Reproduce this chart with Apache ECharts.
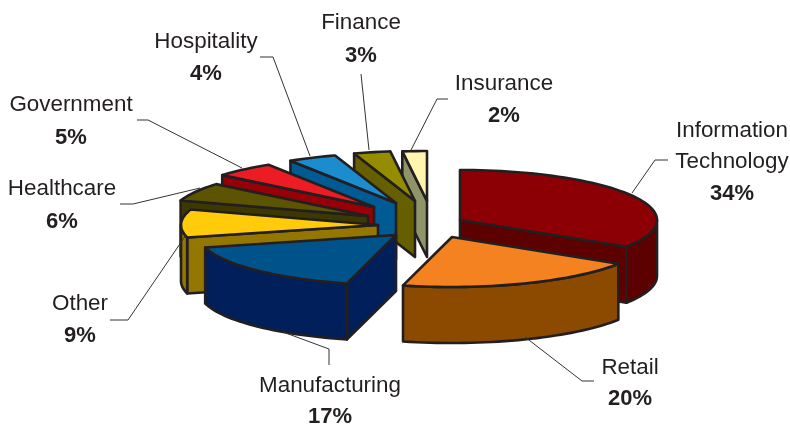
<!DOCTYPE html>
<html>
<head>
<meta charset="utf-8">
<style>
  html, body { margin: 0; padding: 0; background: #fff; }
  #chart { width: 790px; height: 426px; }
</style>
<script src="https://cdn.jsdelivr.net/npm/echarts@6/dist/echarts.min.js"></script>
</head>
<body>
<div id="chart"></div>
<script>
// clockwise from 12 o'clock
const categories = ["Information\nTechnology", "Retail", "Manufacturing", "Other", "Healthcare", "Government", "Hospitality", "Finance", "Insurance"];
const shares = [34, 20, 17, 9, 6, 5, 4, 3, 2];

const topColors = ["#8c0005", "#f58220", "#00528a", "#ffcb0a", "#5c5400", "#ed1c24", "#1b8dcf", "#968c00", "#fff5ad"];
const sideColors = ["#5c0000", "#8c4a00", "#001f5b", "#937700", "#3c3800", "#970007", "#005a94", "#665f00", "#8f9569"];

// pie shape
const RX = 197;
const RY = 50;
const DEPTH = 56;
const CX = 430;
const CY = 219;
const INK = "#231f20";

// how far each slice is pulled out of the pie, px
const explode = [[30, 1], [22, 18], [-34, 16], [-52, 6], [-62, -3], [-56, -12], [-34, -16], [-15, -18], [-3, -18]];
// painter's order, back to front
const drawOrder = [8, 7, 6, 5, 4, 3, 2, 0, 1];

// label layout: [x, name y, percent y]
const labelPos = [[732, 131, 194], [630, 368, 399], [330, 386, 417], [80, 304, 336], [62, 189, 222], [71, 105, 138], [206, 42, 74], [361, 23, 56], [504, 84, 116]];
const leaders = [
  [[668, 160], [655, 160], [632, 193]],
  [[594, 381], [582, 381], [525, 337]],
  [[329, 365], [329, 349], [283, 332]],
  [[110, 320], [128, 320], [186, 235]],
  [[120, 204], [133, 204], [200, 188]],
  [[137, 120], [148, 120], [242, 168]],
  [[260, 57], [273, 57], [310, 156]],
  [[361, 74], [369, 150]],
  [[448, 99], [437, 99], [411, 150]]
];

const total = shares.reduce((a, b) => a + b, 0);
const startDeg = [];
shares.reduce((acc, v, i) => {
  startDeg[i] = acc;
  return acc + (v / total) * 360;
}, 0);

function rimPoint(ax, ay, deg, drop) {
  const r = (deg * Math.PI) / 180;
  return [ax + RX * Math.sin(r), ay - RY * Math.cos(r) + (drop || 0)];
}

function poly(points, fill, z2) {
  return {
    type: "polygon",
    z2: z2,
    shape: { points: points },
    style: { fill: fill, stroke: INK, lineWidth: 2.6, lineJoin: "round" }
  };
}

function renderSlice(params, api) {
  const i = api.value(0);
  const rank = params.dataIndex * 10;
  const a0 = startDeg[i];
  const a1 = a0 + (shares[i] / total) * 360;
  const ax = CX + explode[i][0];
  const ay = CY + explode[i][1];
  const children = [];

  // cut faces, only the ones turned to the viewer
  [a0, a1].forEach((deg, k) => {
    const s = Math.sin((deg * Math.PI) / 180);
    if ((k === 0 && s < -1e-6) || (k === 1 && s > 1e-6)) {
      const p = rimPoint(ax, ay, deg);
      children.push(poly([[ax, ay], p, [p[0], p[1] + DEPTH], [ax, ay + DEPTH]], sideColors[i], rank));
    }
  });

  // outer wall, front half of the rim
  const w0 = Math.max(a0, 90);
  const w1 = Math.min(a1, 270);
  if (w1 > w0) {
    const upper = [];
    const lower = [];
    for (let d = w0; d < w1; d += 2) {
      upper.push(rimPoint(ax, ay, d));
      lower.unshift(rimPoint(ax, ay, d, DEPTH));
    }
    upper.push(rimPoint(ax, ay, w1));
    lower.unshift(rimPoint(ax, ay, w1, DEPTH));
    children.push(poly(upper.concat(lower), sideColors[i], rank + 1));
  }

  // top surface
  const top = [[ax, ay]];
  for (let d = a0; d < a1; d += 2) {
    top.push(rimPoint(ax, ay, d));
  }
  top.push(rimPoint(ax, ay, a1));
  children.push(poly(top, topColors[i], rank + 2));

  return { type: "group", children: children };
}

function renderLabel(params, api) {
  const i = api.value(0);
  const pos = labelPos[i];
  const children = [{
    type: "polyline",
    shape: { points: leaders[i] },
    style: { fill: null, stroke: "#333333", lineWidth: 1 }
  }];
  const lines = categories[i].split("\n");
  const lineGap = 31;
  lines.forEach((line, k) => {
    children.push({
      type: "text",
      style: {
        x: pos[0],
        y: pos[1] + k * lineGap,
        text: line,
        fill: INK,
        font: '22.4px "Liberation Sans", Arial, sans-serif',
        align: "center",
        verticalAlign: "middle"
      }
    });
  });
  children.push({
    type: "text",
    style: {
      x: pos[0],
      y: pos[2],
      text: shares[i] + "%",
      fill: INK,
      font: 'bold 22px "Liberation Sans", Arial, sans-serif',
      align: "center",
      verticalAlign: "middle"
    }
  });
  return { type: "group", children: children };
}

const chart = echarts.init(document.getElementById("chart"), null, { renderer: "canvas" });
chart.setOption({
  animation: false,
  backgroundColor: "#fff",
  series: [
    {
      type: "custom",
      coordinateSystem: "none",
      silent: true,
      z: 3,
      renderItem: renderLabel,
      data: categories.map((c, i) => [i])
    },
    {
      type: "custom",
      coordinateSystem: "none",
      silent: true,
      z: 2,
      renderItem: renderSlice,
      data: drawOrder.map((i) => [i])
    }
  ]
});
</script>
</body>
</html>
